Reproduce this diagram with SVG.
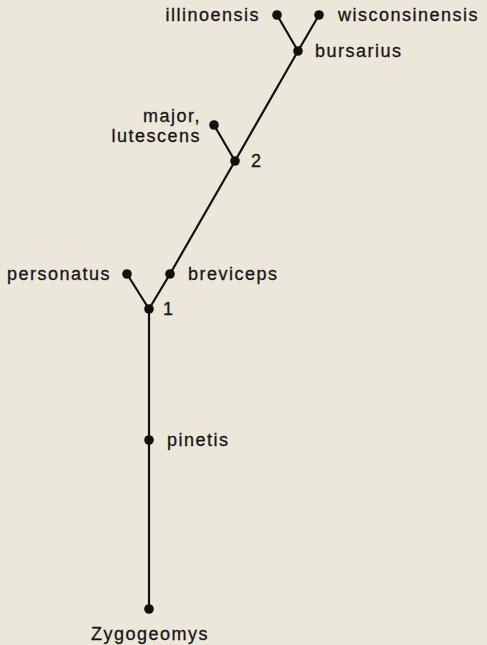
<svg xmlns="http://www.w3.org/2000/svg" width="487" height="645" viewBox="0 0 487 645">
<style>
.bg{fill:#ebe7da}
.e{stroke:#111;stroke-width:2.2;fill:none;stroke-linecap:round}
.d{fill:#111}
.t{font-family:"Liberation Sans",Arial,sans-serif;font-size:18px;fill:#151515;letter-spacing:1.5px;stroke:#151515;stroke-width:0.3}
</style>
<rect class="bg" x="0" y="0" width="487" height="645"/>
<g id="connectors">
<line class="e" x1="277" y1="15" x2="298" y2="51"/>
<line class="e" x1="319" y1="15" x2="298" y2="51"/>
<line class="e" x1="298" y1="51" x2="235" y2="161"/>
<line class="e" x1="214" y1="125" x2="235" y2="161"/>
<line class="e" x1="235" y1="161" x2="170" y2="274"/>
<line class="e" x1="170" y1="274" x2="149" y2="309"/>
<line class="e" x1="127" y1="274" x2="149" y2="309"/>
<line class="e" x1="149" y1="309" x2="149" y2="609"/>
</g>
<g id="illinoensis"><circle class="d" cx="277" cy="15" r="4.8"/><text class="t" x="260" y="21" text-anchor="end">illinoensis</text></g>
<g id="wisconsinensis"><circle class="d" cx="319" cy="15" r="4.8"/><text class="t" x="338" y="21">wisconsinensis</text></g>
<g id="bursarius"><circle class="d" cx="298" cy="51" r="4.8"/><text class="t" x="315" y="57">bursarius</text></g>
<g id="major-lutescens"><circle class="d" cx="214" cy="125" r="4.8"/><text class="t" x="201" y="122" text-anchor="end">major,</text><text class="t" x="201" y="142" text-anchor="end">lutescens</text></g>
<g id="node2"><circle class="d" cx="235" cy="161" r="4.8"/><text class="t" x="251" y="167">2</text></g>
<g id="personatus"><circle class="d" cx="127" cy="274" r="4.8"/><text class="t" x="111" y="280" text-anchor="end">personatus</text></g>
<g id="breviceps"><circle class="d" cx="170" cy="274" r="4.8"/><text class="t" x="188" y="280">breviceps</text></g>
<g id="node1"><circle class="d" cx="149" cy="309" r="4.8"/><text class="t" x="163" y="315">1</text></g>
<g id="pinetis"><circle class="d" cx="149" cy="440" r="4.8"/><text class="t" x="167" y="446">pinetis</text></g>
<g id="Zygogeomys"><circle class="d" cx="149" cy="609" r="4.8"/><text class="t" x="150" y="640" text-anchor="middle">Zygogeomys</text></g>
</svg>
